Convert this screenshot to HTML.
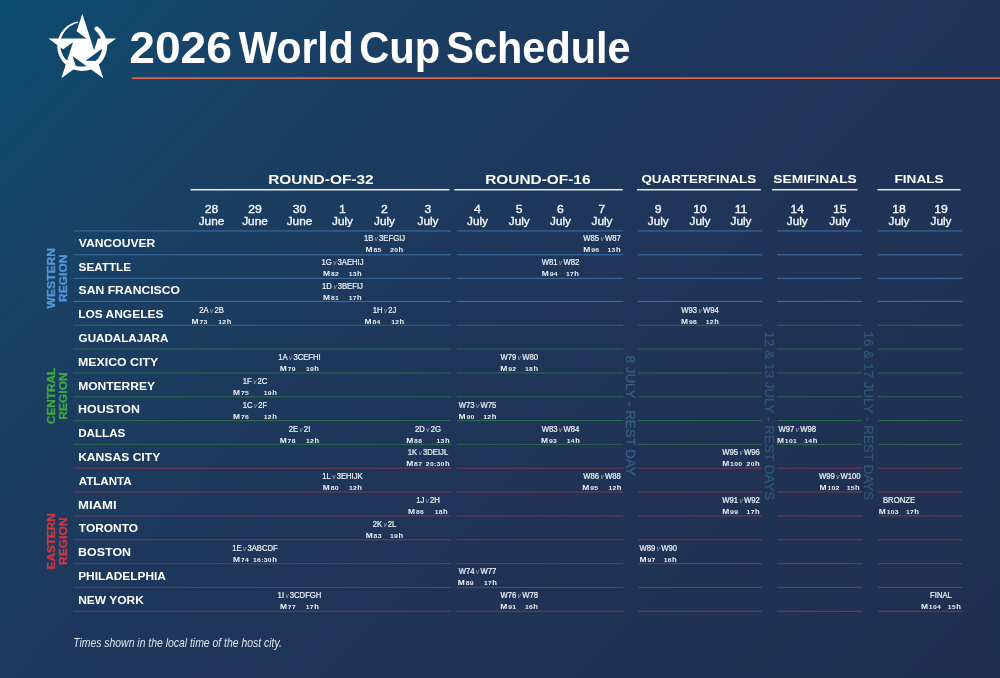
<!DOCTYPE html>
<html lang="en"><head><meta charset="utf-8"><title>2026 World Cup Schedule</title>
<style>
html,body{margin:0;padding:0;background:#1f3155;}
body{width:1000px;height:678px;overflow:hidden;font-family:"Liberation Sans",sans-serif;}
.page{position:relative;width:1000px;height:678px;overflow:hidden;color:#fff;
background:linear-gradient(134deg,#0b4b70 0%,#164468 15%,#1b3c60 30%,#1d385d 40%,#203457 60%,#202f50 100%);}

svg.main{position:absolute;left:0;top:0;font-family:"Liberation Sans",sans-serif;fill:#fff;}
svg.main text{white-space:pre;}
.b{font-weight:bold;}
.md{fill:#f6f8fb;stroke:#f6f8fb;stroke-width:0.35px;}
.m1{fill:#eef1f6;stroke:#eef1f6;stroke-width:0.22px;}
.v{font-size:6.8px;font-style:italic;fill:#a6b4c9;stroke:none;letter-spacing:-0.35px;}
.m2{font-weight:bold;fill:#eef1f6;}
.sd{letter-spacing:0.25px;}
.rg{stroke-width:0.3px;letter-spacing:0.25px;}
.logo{position:absolute;left:40px;top:5px;}
</style></head><body>
<div class="page">
<svg class="logo" width="90" height="85" viewBox="0 0 90 85">
<path d="M58.21 21.93 L59.81 23.39 L61.27 24.99 L62.60 26.72 L63.76 28.55 L64.77 30.48 L65.60 32.48 L66.25 34.56 L66.72 36.68 L67.01 38.83 L67.10 41.00 L67.01 43.17 L66.72 45.32 L66.25 47.44 L65.60 49.52 L64.77 51.52 L63.76 53.45 L62.60 55.28 L61.27 57.01 L59.81 58.61 L58.21 60.07 L56.48 61.40 L54.65 62.56 L52.72 63.57 L50.72 64.40 L48.64 65.05 L46.52 65.52 L44.37 65.81 L42.20 65.90 L40.03 65.81 L37.88 65.52 L35.76 65.05 L33.68 64.40 L31.68 63.57 L29.75 62.56 L27.92 61.40 L26.19 60.07 L24.59 58.61 L23.13 57.01 L21.80 55.28 L20.64 53.45 L19.63 51.52 L18.80 49.52 L18.15 47.44 L17.68 45.32 L17.39 43.17 L17.30 41.00 L17.39 38.83 L17.68 36.68 L18.15 34.56 L18.80 32.48 L19.63 30.48 L20.64 28.55 L21.80 26.72 L23.13 24.99 L24.59 23.39 L26.19 21.93 L27.92 20.60 L29.75 19.44 L31.68 18.43 L33.68 17.60 L35.76 16.95 L37.88 16.48 L38.10 17.76 L36.12 18.31 L34.20 19.03 L32.36 19.91 L30.62 20.94 L28.97 22.11 L27.45 23.42 L26.05 24.85 L24.79 26.39 L23.67 28.02 L22.70 29.74 L21.89 31.53 L21.24 33.37 L20.78 35.26 L20.48 37.17 L20.36 39.09 L20.40 41.00 L20.56 42.89 L20.88 44.76 L21.37 46.58 L22.01 48.35 L22.79 50.05 L23.72 51.67 L24.79 53.19 L25.98 54.61 L27.28 55.92 L28.67 57.12 L30.16 58.19 L31.73 59.13 L33.38 59.92 L35.08 60.57 L36.83 61.06 L38.60 61.40 L40.40 61.58 L42.20 61.60 L43.99 61.48 L45.76 61.20 L47.50 60.77 L49.18 60.19 L50.81 59.47 L52.37 58.61 L53.84 57.62 L55.21 56.51 L56.48 55.28 L57.67 53.98 L58.73 52.57 L59.66 51.08 L60.47 49.52 L61.13 47.89 L61.65 46.21 L62.02 44.49 L62.23 42.75 L62.30 41.00 L62.24 39.25 L62.03 37.50 L61.67 35.78 L61.16 34.10 L60.51 32.46 L59.71 30.89 L58.78 29.39 L57.72 27.98 L56.54 26.66 L55.25 25.45 L54.69 24.75 L54.44 23.89 L54.53 23.00 L54.97 22.21 L55.66 21.65 L56.53 21.40 L57.42 21.49Z" fill="#fff"/>
<path d="M42.30 8.75 L54.04 44.89 L57.95 33.42 L76.25 33.42 L45.51 55.75 L57.63 55.93 L63.28 73.33 L32.54 51.00 L36.12 62.58 L21.32 73.33 L33.06 37.19 L23.15 44.17 L8.35 33.42 L46.35 33.42 L36.64 26.15Z" fill="#fff"/>
</svg>
<svg class="main" width="1000" height="678" viewBox="0 0 1000 678">
<rect x="190.5" y="188.95" width="259.00" height="1.55" fill="#e1e6ef"/>
<rect x="454.2" y="188.95" width="168.55" height="1.55" fill="#e1e6ef"/>
<rect x="637" y="188.95" width="123.75" height="1.55" fill="#e1e6ef"/>
<rect x="772" y="188.95" width="85.50" height="1.55" fill="#e1e6ef"/>
<rect x="877.5" y="188.95" width="83.00" height="1.55" fill="#e1e6ef"/>
<rect x="73.3" y="230.35" width="377.70" height="1.15" fill="#3d6b9c"/>
<rect x="456.8" y="230.35" width="166.40" height="1.15" fill="#3d6b9c"/>
<rect x="638" y="230.35" width="124.00" height="1.15" fill="#3d6b9c"/>
<rect x="777" y="230.35" width="85.30" height="1.15" fill="#3d6b9c"/>
<rect x="878" y="230.35" width="84.50" height="1.15" fill="#3d6b9c"/>
<rect x="73.3" y="254.20" width="377.70" height="1.15" fill="#3d6b9c"/>
<rect x="456.8" y="254.20" width="166.40" height="1.15" fill="#3d6b9c"/>
<rect x="638" y="254.20" width="124.00" height="1.15" fill="#3d6b9c"/>
<rect x="777" y="254.20" width="85.30" height="1.15" fill="#3d6b9c"/>
<rect x="878" y="254.20" width="84.50" height="1.15" fill="#3d6b9c"/>
<rect x="73.3" y="277.80" width="377.70" height="1.15" fill="#3d6b9c"/>
<rect x="456.8" y="277.80" width="166.40" height="1.15" fill="#3d6b9c"/>
<rect x="638" y="277.80" width="124.00" height="1.15" fill="#3d6b9c"/>
<rect x="777" y="277.80" width="85.30" height="1.15" fill="#3d6b9c"/>
<rect x="878" y="277.80" width="84.50" height="1.15" fill="#3d6b9c"/>
<rect x="73.3" y="300.90" width="377.70" height="1.15" fill="#3d6b9c"/>
<rect x="456.8" y="300.90" width="166.40" height="1.15" fill="#3d6b9c"/>
<rect x="638" y="300.90" width="124.00" height="1.15" fill="#3d6b9c"/>
<rect x="777" y="300.90" width="85.30" height="1.15" fill="#3d6b9c"/>
<rect x="878" y="300.90" width="84.50" height="1.15" fill="#3d6b9c"/>
<rect x="73.3" y="324.70" width="377.70" height="1.15" fill="#29664f"/>
<rect x="456.8" y="324.70" width="166.40" height="1.15" fill="#29664f"/>
<rect x="638" y="324.70" width="124.00" height="1.15" fill="#29664f"/>
<rect x="777" y="324.70" width="85.30" height="1.15" fill="#29664f"/>
<rect x="878" y="324.70" width="84.50" height="1.15" fill="#29664f"/>
<rect x="73.3" y="348.50" width="377.70" height="1.15" fill="#29664f"/>
<rect x="456.8" y="348.50" width="166.40" height="1.15" fill="#29664f"/>
<rect x="638" y="348.50" width="124.00" height="1.15" fill="#29664f"/>
<rect x="777" y="348.50" width="85.30" height="1.15" fill="#29664f"/>
<rect x="878" y="348.50" width="84.50" height="1.15" fill="#29664f"/>
<rect x="73.3" y="372.40" width="377.70" height="1.15" fill="#29664f"/>
<rect x="456.8" y="372.40" width="166.40" height="1.15" fill="#29664f"/>
<rect x="638" y="372.40" width="124.00" height="1.15" fill="#29664f"/>
<rect x="777" y="372.40" width="85.30" height="1.15" fill="#29664f"/>
<rect x="878" y="372.40" width="84.50" height="1.15" fill="#29664f"/>
<rect x="73.3" y="396.20" width="377.70" height="1.15" fill="#29664f"/>
<rect x="456.8" y="396.20" width="166.40" height="1.15" fill="#29664f"/>
<rect x="638" y="396.20" width="124.00" height="1.15" fill="#29664f"/>
<rect x="777" y="396.20" width="85.30" height="1.15" fill="#29664f"/>
<rect x="878" y="396.20" width="84.50" height="1.15" fill="#29664f"/>
<rect x="73.3" y="420.00" width="377.70" height="1.15" fill="#29664f"/>
<rect x="456.8" y="420.00" width="166.40" height="1.15" fill="#29664f"/>
<rect x="638" y="420.00" width="124.00" height="1.15" fill="#29664f"/>
<rect x="777" y="420.00" width="85.30" height="1.15" fill="#29664f"/>
<rect x="878" y="420.00" width="84.50" height="1.15" fill="#29664f"/>
<rect x="73.3" y="443.80" width="377.70" height="1.15" fill="#29664f"/>
<rect x="456.8" y="443.80" width="166.40" height="1.15" fill="#29664f"/>
<rect x="638" y="443.80" width="124.00" height="1.15" fill="#29664f"/>
<rect x="777" y="443.80" width="85.30" height="1.15" fill="#29664f"/>
<rect x="878" y="443.80" width="84.50" height="1.15" fill="#29664f"/>
<rect x="73.3" y="467.60" width="377.70" height="1.15" fill="#743952"/>
<rect x="456.8" y="467.60" width="166.40" height="1.15" fill="#743952"/>
<rect x="638" y="467.60" width="124.00" height="1.15" fill="#743952"/>
<rect x="777" y="467.60" width="85.30" height="1.15" fill="#743952"/>
<rect x="878" y="467.60" width="84.50" height="1.15" fill="#743952"/>
<rect x="73.3" y="491.40" width="377.70" height="1.15" fill="#743952"/>
<rect x="456.8" y="491.40" width="166.40" height="1.15" fill="#743952"/>
<rect x="638" y="491.40" width="124.00" height="1.15" fill="#743952"/>
<rect x="777" y="491.40" width="85.30" height="1.15" fill="#743952"/>
<rect x="878" y="491.40" width="84.50" height="1.15" fill="#743952"/>
<rect x="73.3" y="515.30" width="377.70" height="1.15" fill="#743952"/>
<rect x="456.8" y="515.30" width="166.40" height="1.15" fill="#743952"/>
<rect x="638" y="515.30" width="124.00" height="1.15" fill="#743952"/>
<rect x="777" y="515.30" width="85.30" height="1.15" fill="#743952"/>
<rect x="878" y="515.30" width="84.50" height="1.15" fill="#743952"/>
<rect x="73.3" y="539.20" width="377.70" height="1.15" fill="#743952"/>
<rect x="456.8" y="539.20" width="166.40" height="1.15" fill="#743952"/>
<rect x="638" y="539.20" width="124.00" height="1.15" fill="#743952"/>
<rect x="777" y="539.20" width="85.30" height="1.15" fill="#743952"/>
<rect x="878" y="539.20" width="84.50" height="1.15" fill="#743952"/>
<rect x="73.3" y="563.00" width="377.70" height="1.15" fill="#743952"/>
<rect x="456.8" y="563.00" width="166.40" height="1.15" fill="#743952"/>
<rect x="638" y="563.00" width="124.00" height="1.15" fill="#743952"/>
<rect x="777" y="563.00" width="85.30" height="1.15" fill="#743952"/>
<rect x="878" y="563.00" width="84.50" height="1.15" fill="#743952"/>
<rect x="73.3" y="586.90" width="377.70" height="1.15" fill="#743952"/>
<rect x="456.8" y="586.90" width="166.40" height="1.15" fill="#743952"/>
<rect x="638" y="586.90" width="124.00" height="1.15" fill="#743952"/>
<rect x="777" y="586.90" width="85.30" height="1.15" fill="#743952"/>
<rect x="878" y="586.90" width="84.50" height="1.15" fill="#743952"/>
<rect x="73.3" y="610.80" width="377.70" height="1.15" fill="#743952"/>
<rect x="456.8" y="610.80" width="166.40" height="1.15" fill="#743952"/>
<rect x="638" y="610.80" width="124.00" height="1.15" fill="#743952"/>
<rect x="777" y="610.80" width="85.30" height="1.15" fill="#743952"/>
<rect x="878" y="610.80" width="84.50" height="1.15" fill="#743952"/>
<rect x="131.8" y="77.35" width="868.2" height="1.6" fill="#e96a50"/>
<text y="62.8" font-size="44.4" class="b"><tspan x="129.24" textLength="102.78" lengthAdjust="spacingAndGlyphs">2026</tspan> <tspan x="238.79" textLength="114.84" lengthAdjust="spacingAndGlyphs">World</tspan> <tspan x="359.14" textLength="81.16" lengthAdjust="spacingAndGlyphs">Cup</tspan> <tspan x="446.33" textLength="184.28" lengthAdjust="spacingAndGlyphs">Schedule</tspan></text>
<text transform="translate(268.16 184.00) scale(1.1880 1)" font-size="13" class="b">ROUND-OF-32</text>
<text transform="translate(485.21 184.00) scale(1.1857 1)" font-size="13" class="b">ROUND-OF-16</text>
<text transform="translate(641.43 183.00) scale(1.1375 1)" font-size="11.8" class="b">QUARTERFINALS</text>
<text transform="translate(773.31 183.00) scale(1.1681 1)" font-size="11.8" class="b">SEMIFINALS</text>
<text transform="translate(894.54 183.00) scale(1.1529 1)" font-size="11.8" class="b">FINALS</text>
<text transform="translate(211.50 213.00) scale(1.0700 1)" font-size="11.4" text-anchor="middle" class="md">28</text>
<text x="211.50" y="225.00" font-size="11.8" text-anchor="middle" class="md">June</text>
<text transform="translate(255.00 213.00) scale(1.0700 1)" font-size="11.4" text-anchor="middle" class="md">29</text>
<text x="255.00" y="225.00" font-size="11.8" text-anchor="middle" class="md">June</text>
<text transform="translate(299.50 213.00) scale(1.0700 1)" font-size="11.4" text-anchor="middle" class="md">30</text>
<text x="299.50" y="225.00" font-size="11.8" text-anchor="middle" class="md">June</text>
<text transform="translate(342.50 213.00) scale(1.0700 1)" font-size="11.4" text-anchor="middle" class="md">1</text>
<text x="342.50" y="225.00" font-size="11.8" text-anchor="middle" class="md">July</text>
<text transform="translate(384.50 213.00) scale(1.0700 1)" font-size="11.4" text-anchor="middle" class="md">2</text>
<text x="384.50" y="225.00" font-size="11.8" text-anchor="middle" class="md">July</text>
<text transform="translate(428.00 213.00) scale(1.0700 1)" font-size="11.4" text-anchor="middle" class="md">3</text>
<text x="428.00" y="225.00" font-size="11.8" text-anchor="middle" class="md">July</text>
<text transform="translate(477.50 213.00) scale(1.0700 1)" font-size="11.4" text-anchor="middle" class="md">4</text>
<text x="477.50" y="225.00" font-size="11.8" text-anchor="middle" class="md">July</text>
<text transform="translate(519.25 213.00) scale(1.0700 1)" font-size="11.4" text-anchor="middle" class="md">5</text>
<text x="519.25" y="225.00" font-size="11.8" text-anchor="middle" class="md">July</text>
<text transform="translate(560.50 213.00) scale(1.0700 1)" font-size="11.4" text-anchor="middle" class="md">6</text>
<text x="560.50" y="225.00" font-size="11.8" text-anchor="middle" class="md">July</text>
<text transform="translate(602.00 213.00) scale(1.0700 1)" font-size="11.4" text-anchor="middle" class="md">7</text>
<text x="602.00" y="225.00" font-size="11.8" text-anchor="middle" class="md">July</text>
<text transform="translate(658.25 213.00) scale(1.0700 1)" font-size="11.4" text-anchor="middle" class="md">9</text>
<text x="658.25" y="225.00" font-size="11.8" text-anchor="middle" class="md">July</text>
<text transform="translate(700.00 213.00) scale(1.0700 1)" font-size="11.4" text-anchor="middle" class="md">10</text>
<text x="700.00" y="225.00" font-size="11.8" text-anchor="middle" class="md">July</text>
<text transform="translate(741.00 213.00) scale(1.0700 1)" font-size="11.4" text-anchor="middle" class="md">11</text>
<text x="741.00" y="225.00" font-size="11.8" text-anchor="middle" class="md">July</text>
<text transform="translate(797.25 213.00) scale(1.0700 1)" font-size="11.4" text-anchor="middle" class="md">14</text>
<text x="797.25" y="225.00" font-size="11.8" text-anchor="middle" class="md">July</text>
<text transform="translate(839.75 213.00) scale(1.0700 1)" font-size="11.4" text-anchor="middle" class="md">15</text>
<text x="839.75" y="225.00" font-size="11.8" text-anchor="middle" class="md">July</text>
<text transform="translate(899.00 213.00) scale(1.0700 1)" font-size="11.4" text-anchor="middle" class="md">18</text>
<text x="899.00" y="225.00" font-size="11.8" text-anchor="middle" class="md">July</text>
<text transform="translate(941.00 213.00) scale(1.0700 1)" font-size="11.4" text-anchor="middle" class="md">19</text>
<text x="941.00" y="225.00" font-size="11.8" text-anchor="middle" class="md">July</text>
<text transform="translate(78.86 246.70) scale(1.1537 1)" font-size="10.5" class="b">VANCOUVER</text>
<text transform="translate(78.58 270.50) scale(1.1157 1)" font-size="10.5" class="b">SEATTLE</text>
<text transform="translate(78.57 294.30) scale(1.1597 1)" font-size="10.5" class="b">SAN FRANCISCO</text>
<text transform="translate(78.15 318.10) scale(1.1390 1)" font-size="10.5" class="b">LOS ANGELES</text>
<text transform="translate(78.58 341.90) scale(1.1086 1)" font-size="10.5" class="b">GUADALAJARA</text>
<text transform="translate(78.12 365.70) scale(1.1732 1)" font-size="10.5" class="b">MEXICO CITY</text>
<text transform="translate(78.14 389.50) scale(1.1463 1)" font-size="10.5" class="b">MONTERREY</text>
<text transform="translate(78.11 413.30) scale(1.1813 1)" font-size="10.5" class="b">HOUSTON</text>
<text transform="translate(78.17 437.10) scale(1.1094 1)" font-size="10.5" class="b">DALLAS</text>
<text transform="translate(78.13 460.90) scale(1.1544 1)" font-size="10.5" class="b">KANSAS CITY</text>
<text transform="translate(78.72 484.70) scale(1.1011 1)" font-size="10.5" class="b">ATLANTA</text>
<text transform="translate(78.06 508.50) scale(1.2475 1)" font-size="10.5" class="b">MIAMI</text>
<text transform="translate(78.86 532.30) scale(1.1359 1)" font-size="10.5" class="b">TORONTO</text>
<text transform="translate(78.11 556.10) scale(1.1838 1)" font-size="10.5" class="b">BOSTON</text>
<text transform="translate(78.15 579.90) scale(1.1320 1)" font-size="10.5" class="b">PHILADELPHIA</text>
<text transform="translate(78.14 603.70) scale(1.1426 1)" font-size="10.5" class="b">NEW YORK</text>
<text transform="translate(384.50 241.20) scale(0.9400 1)" font-size="8.2" text-anchor="middle" class="m1">1B<tspan class="v"> v </tspan>3EFGIJ</text>
<text transform="translate(365.60 252.10) scale(1.28 1)" class="m2" font-size="6.6">M</text>
<text transform="translate(373.50 252.10) scale(1.12 1)" class="m2 sd" font-size="6.1">85</text>
<text transform="translate(398.30 252.10) scale(1.12 1)" class="m2 sd" font-size="6.1" text-anchor="end">20</text>
<text transform="translate(403.20 252.10) scale(1.15 1)" class="m2" font-size="6.6" text-anchor="end">h</text>
<text transform="translate(602.00 241.20) scale(0.9400 1)" font-size="8.2" text-anchor="middle" class="m1">W85<tspan class="v"> v </tspan>W87</text>
<text transform="translate(583.25 252.10) scale(1.28 1)" class="m2" font-size="6.6">M</text>
<text transform="translate(591.15 252.10) scale(1.12 1)" class="m2 sd" font-size="6.1">96</text>
<text transform="translate(615.65 252.10) scale(1.12 1)" class="m2 sd" font-size="6.1" text-anchor="end">13</text>
<text transform="translate(620.55 252.10) scale(1.15 1)" class="m2" font-size="6.6" text-anchor="end">h</text>
<text transform="translate(342.50 265.00) scale(0.9400 1)" font-size="8.2" text-anchor="middle" class="m1">1G<tspan class="v"> v </tspan>3AEHIJ</text>
<text transform="translate(323.05 275.90) scale(1.28 1)" class="m2" font-size="6.6">M</text>
<text transform="translate(330.95 275.90) scale(1.12 1)" class="m2 sd" font-size="6.1">82</text>
<text transform="translate(356.85 275.90) scale(1.12 1)" class="m2 sd" font-size="6.1" text-anchor="end">13</text>
<text transform="translate(361.75 275.90) scale(1.15 1)" class="m2" font-size="6.6" text-anchor="end">h</text>
<text transform="translate(560.50 265.00) scale(0.9400 1)" font-size="8.2" text-anchor="middle" class="m1">W81<tspan class="v"> v </tspan>W82</text>
<text transform="translate(541.80 275.90) scale(1.28 1)" class="m2" font-size="6.6">M</text>
<text transform="translate(549.70 275.90) scale(1.12 1)" class="m2 sd" font-size="6.1">94</text>
<text transform="translate(574.10 275.90) scale(1.12 1)" class="m2 sd" font-size="6.1" text-anchor="end">17</text>
<text transform="translate(579.00 275.90) scale(1.15 1)" class="m2" font-size="6.6" text-anchor="end">h</text>
<text transform="translate(342.50 288.80) scale(0.9400 1)" font-size="8.2" text-anchor="middle" class="m1">1D<tspan class="v"> v </tspan>3BEFIJ</text>
<text transform="translate(323.05 299.70) scale(1.28 1)" class="m2" font-size="6.6">M</text>
<text transform="translate(330.95 299.70) scale(1.12 1)" class="m2 sd" font-size="6.1">81</text>
<text transform="translate(356.85 299.70) scale(1.12 1)" class="m2 sd" font-size="6.1" text-anchor="end">17</text>
<text transform="translate(361.75 299.70) scale(1.15 1)" class="m2" font-size="6.6" text-anchor="end">h</text>
<text transform="translate(211.50 312.60) scale(0.9400 1)" font-size="8.2" text-anchor="middle" class="m1">2A<tspan class="v"> v </tspan>2B</text>
<text transform="translate(191.50 323.50) scale(1.28 1)" class="m2" font-size="6.6">M</text>
<text transform="translate(199.40 323.50) scale(1.12 1)" class="m2 sd" font-size="6.1">73</text>
<text transform="translate(226.40 323.50) scale(1.12 1)" class="m2 sd" font-size="6.1" text-anchor="end">12</text>
<text transform="translate(231.30 323.50) scale(1.15 1)" class="m2" font-size="6.6" text-anchor="end">h</text>
<text transform="translate(384.50 312.60) scale(0.9400 1)" font-size="8.2" text-anchor="middle" class="m1">1H<tspan class="v"> v </tspan>2J</text>
<text transform="translate(364.60 323.50) scale(1.28 1)" class="m2" font-size="6.6">M</text>
<text transform="translate(372.50 323.50) scale(1.12 1)" class="m2 sd" font-size="6.1">84</text>
<text transform="translate(399.30 323.50) scale(1.12 1)" class="m2 sd" font-size="6.1" text-anchor="end">12</text>
<text transform="translate(404.20 323.50) scale(1.15 1)" class="m2" font-size="6.6" text-anchor="end">h</text>
<text transform="translate(700.00 312.60) scale(0.9400 1)" font-size="8.2" text-anchor="middle" class="m1">W93<tspan class="v"> v </tspan>W94</text>
<text transform="translate(681.00 323.50) scale(1.28 1)" class="m2" font-size="6.6">M</text>
<text transform="translate(688.90 323.50) scale(1.12 1)" class="m2 sd" font-size="6.1">98</text>
<text transform="translate(713.90 323.50) scale(1.12 1)" class="m2 sd" font-size="6.1" text-anchor="end">12</text>
<text transform="translate(718.80 323.50) scale(1.15 1)" class="m2" font-size="6.6" text-anchor="end">h</text>
<text transform="translate(299.50 360.20) scale(0.9400 1)" font-size="8.2" text-anchor="middle" class="m1">1A<tspan class="v"> v </tspan>3CEFHI</text>
<text transform="translate(279.80 371.10) scale(1.28 1)" class="m2" font-size="6.6">M</text>
<text transform="translate(287.70 371.10) scale(1.12 1)" class="m2 sd" font-size="6.1">79</text>
<text transform="translate(314.10 371.10) scale(1.12 1)" class="m2 sd" font-size="6.1" text-anchor="end">19</text>
<text transform="translate(319.00 371.10) scale(1.15 1)" class="m2" font-size="6.6" text-anchor="end">h</text>
<text transform="translate(519.25 360.20) scale(0.9400 1)" font-size="8.2" text-anchor="middle" class="m1">W79<tspan class="v"> v </tspan>W80</text>
<text transform="translate(500.25 371.10) scale(1.28 1)" class="m2" font-size="6.6">M</text>
<text transform="translate(508.15 371.10) scale(1.12 1)" class="m2 sd" font-size="6.1">92</text>
<text transform="translate(533.15 371.10) scale(1.12 1)" class="m2 sd" font-size="6.1" text-anchor="end">18</text>
<text transform="translate(538.05 371.10) scale(1.15 1)" class="m2" font-size="6.6" text-anchor="end">h</text>
<text transform="translate(255.00 384.00) scale(0.9400 1)" font-size="8.2" text-anchor="middle" class="m1">1F<tspan class="v"> v </tspan>2C</text>
<text transform="translate(233.00 394.90) scale(1.28 1)" class="m2" font-size="6.6">M</text>
<text transform="translate(240.90 394.90) scale(1.12 1)" class="m2 sd" font-size="6.1">75</text>
<text transform="translate(271.90 394.90) scale(1.12 1)" class="m2 sd" font-size="6.1" text-anchor="end">19</text>
<text transform="translate(276.80 394.90) scale(1.15 1)" class="m2" font-size="6.6" text-anchor="end">h</text>
<text transform="translate(255.00 407.80) scale(0.9400 1)" font-size="8.2" text-anchor="middle" class="m1">1C<tspan class="v"> v </tspan>2F</text>
<text transform="translate(233.00 418.70) scale(1.28 1)" class="m2" font-size="6.6">M</text>
<text transform="translate(240.90 418.70) scale(1.12 1)" class="m2 sd" font-size="6.1">76</text>
<text transform="translate(271.90 418.70) scale(1.12 1)" class="m2 sd" font-size="6.1" text-anchor="end">12</text>
<text transform="translate(276.80 418.70) scale(1.15 1)" class="m2" font-size="6.6" text-anchor="end">h</text>
<text transform="translate(477.50 407.80) scale(0.9400 1)" font-size="8.2" text-anchor="middle" class="m1">W73<tspan class="v"> v </tspan>W75</text>
<text transform="translate(458.50 418.70) scale(1.28 1)" class="m2" font-size="6.6">M</text>
<text transform="translate(466.40 418.70) scale(1.12 1)" class="m2 sd" font-size="6.1">90</text>
<text transform="translate(491.40 418.70) scale(1.12 1)" class="m2 sd" font-size="6.1" text-anchor="end">12</text>
<text transform="translate(496.30 418.70) scale(1.15 1)" class="m2" font-size="6.6" text-anchor="end">h</text>
<text transform="translate(299.50 431.60) scale(0.9400 1)" font-size="8.2" text-anchor="middle" class="m1">2E<tspan class="v"> v </tspan>2I</text>
<text transform="translate(279.70 442.50) scale(1.28 1)" class="m2" font-size="6.6">M</text>
<text transform="translate(287.60 442.50) scale(1.12 1)" class="m2 sd" font-size="6.1">78</text>
<text transform="translate(314.20 442.50) scale(1.12 1)" class="m2 sd" font-size="6.1" text-anchor="end">12</text>
<text transform="translate(319.10 442.50) scale(1.15 1)" class="m2" font-size="6.6" text-anchor="end">h</text>
<text transform="translate(428.00 431.60) scale(0.9400 1)" font-size="8.2" text-anchor="middle" class="m1">2D<tspan class="v"> v </tspan>2G</text>
<text transform="translate(406.20 442.50) scale(1.28 1)" class="m2" font-size="6.6">M</text>
<text transform="translate(414.10 442.50) scale(1.12 1)" class="m2 sd" font-size="6.1">88</text>
<text transform="translate(444.70 442.50) scale(1.12 1)" class="m2 sd" font-size="6.1" text-anchor="end">13</text>
<text transform="translate(449.60 442.50) scale(1.15 1)" class="m2" font-size="6.6" text-anchor="end">h</text>
<text transform="translate(560.50 431.60) scale(0.9400 1)" font-size="8.2" text-anchor="middle" class="m1">W83<tspan class="v"> v </tspan>W84</text>
<text transform="translate(541.00 442.50) scale(1.28 1)" class="m2" font-size="6.6">M</text>
<text transform="translate(548.90 442.50) scale(1.12 1)" class="m2 sd" font-size="6.1">93</text>
<text transform="translate(574.90 442.50) scale(1.12 1)" class="m2 sd" font-size="6.1" text-anchor="end">14</text>
<text transform="translate(579.80 442.50) scale(1.15 1)" class="m2" font-size="6.6" text-anchor="end">h</text>
<text transform="translate(797.25 431.60) scale(0.9400 1)" font-size="8.2" text-anchor="middle" class="m1">W97<tspan class="v"> v </tspan>W98</text>
<text transform="translate(776.95 442.50) scale(1.28 1)" class="m2" font-size="6.6">M</text>
<text transform="translate(784.85 442.50) scale(1.12 1)" class="m2 sd" font-size="6.1">101</text>
<text transform="translate(812.45 442.50) scale(1.12 1)" class="m2 sd" font-size="6.1" text-anchor="end">14</text>
<text transform="translate(817.35 442.50) scale(1.15 1)" class="m2" font-size="6.6" text-anchor="end">h</text>
<text transform="translate(428.00 455.40) scale(0.9400 1)" font-size="8.2" text-anchor="middle" class="m1">1K<tspan class="v"> v </tspan>3DEIJL</text>
<text transform="translate(406.20 466.30) scale(1.28 1)" class="m2" font-size="6.6">M</text>
<text transform="translate(414.10 466.30) scale(1.12 1)" class="m2 sd" font-size="6.1">87</text>
<text transform="translate(444.70 466.30) scale(1.12 1)" class="m2 sd" font-size="6.1" text-anchor="end">20:30</text>
<text transform="translate(449.60 466.30) scale(1.15 1)" class="m2" font-size="6.6" text-anchor="end">h</text>
<text transform="translate(741.00 455.40) scale(0.9400 1)" font-size="8.2" text-anchor="middle" class="m1">W95<tspan class="v"> v </tspan>W96</text>
<text transform="translate(722.15 466.30) scale(1.28 1)" class="m2" font-size="6.6">M</text>
<text transform="translate(730.05 466.30) scale(1.12 1)" class="m2 sd" font-size="6.1">100</text>
<text transform="translate(754.75 466.30) scale(1.12 1)" class="m2 sd" font-size="6.1" text-anchor="end">20</text>
<text transform="translate(759.65 466.30) scale(1.15 1)" class="m2" font-size="6.6" text-anchor="end">h</text>
<text transform="translate(342.50 479.20) scale(0.9400 1)" font-size="8.2" text-anchor="middle" class="m1">1L<tspan class="v"> v </tspan>3EHIJK</text>
<text transform="translate(322.80 490.10) scale(1.28 1)" class="m2" font-size="6.6">M</text>
<text transform="translate(330.70 490.10) scale(1.12 1)" class="m2 sd" font-size="6.1">80</text>
<text transform="translate(357.10 490.10) scale(1.12 1)" class="m2 sd" font-size="6.1" text-anchor="end">12</text>
<text transform="translate(362.00 490.10) scale(1.15 1)" class="m2" font-size="6.6" text-anchor="end">h</text>
<text transform="translate(602.00 479.20) scale(0.9400 1)" font-size="8.2" text-anchor="middle" class="m1">W86<tspan class="v"> v </tspan>W88</text>
<text transform="translate(582.35 490.10) scale(1.28 1)" class="m2" font-size="6.6">M</text>
<text transform="translate(590.25 490.10) scale(1.12 1)" class="m2 sd" font-size="6.1">95</text>
<text transform="translate(616.55 490.10) scale(1.12 1)" class="m2 sd" font-size="6.1" text-anchor="end">12</text>
<text transform="translate(621.45 490.10) scale(1.15 1)" class="m2" font-size="6.6" text-anchor="end">h</text>
<text transform="translate(839.75 479.20) scale(0.9400 1)" font-size="8.2" text-anchor="middle" class="m1">W99<tspan class="v"> v </tspan>W100</text>
<text transform="translate(819.55 490.10) scale(1.28 1)" class="m2" font-size="6.6">M</text>
<text transform="translate(827.45 490.10) scale(1.12 1)" class="m2 sd" font-size="6.1">102</text>
<text transform="translate(854.85 490.10) scale(1.12 1)" class="m2 sd" font-size="6.1" text-anchor="end">15</text>
<text transform="translate(859.75 490.10) scale(1.15 1)" class="m2" font-size="6.6" text-anchor="end">h</text>
<text transform="translate(428.00 503.00) scale(0.9400 1)" font-size="8.2" text-anchor="middle" class="m1">1J<tspan class="v"> v </tspan>2H</text>
<text transform="translate(408.10 513.90) scale(1.28 1)" class="m2" font-size="6.6">M</text>
<text transform="translate(416.00 513.90) scale(1.12 1)" class="m2 sd" font-size="6.1">86</text>
<text transform="translate(442.80 513.90) scale(1.12 1)" class="m2 sd" font-size="6.1" text-anchor="end">18</text>
<text transform="translate(447.70 513.90) scale(1.15 1)" class="m2" font-size="6.6" text-anchor="end">h</text>
<text transform="translate(741.00 503.00) scale(0.9400 1)" font-size="8.2" text-anchor="middle" class="m1">W91<tspan class="v"> v </tspan>W92</text>
<text transform="translate(722.15 513.90) scale(1.28 1)" class="m2" font-size="6.6">M</text>
<text transform="translate(730.05 513.90) scale(1.12 1)" class="m2 sd" font-size="6.1">99</text>
<text transform="translate(754.75 513.90) scale(1.12 1)" class="m2 sd" font-size="6.1" text-anchor="end">17</text>
<text transform="translate(759.65 513.90) scale(1.15 1)" class="m2" font-size="6.6" text-anchor="end">h</text>
<text transform="translate(899.00 503.00) scale(0.9400 1)" font-size="8.2" text-anchor="middle" class="m1">BRONZE</text>
<text transform="translate(878.80 513.90) scale(1.28 1)" class="m2" font-size="6.6">M</text>
<text transform="translate(886.70 513.90) scale(1.12 1)" class="m2 sd" font-size="6.1">103</text>
<text transform="translate(914.10 513.90) scale(1.12 1)" class="m2 sd" font-size="6.1" text-anchor="end">17</text>
<text transform="translate(919.00 513.90) scale(1.15 1)" class="m2" font-size="6.6" text-anchor="end">h</text>
<text transform="translate(384.50 526.80) scale(0.9400 1)" font-size="8.2" text-anchor="middle" class="m1">2K<tspan class="v"> v </tspan>2L</text>
<text transform="translate(365.70 537.70) scale(1.28 1)" class="m2" font-size="6.6">M</text>
<text transform="translate(373.60 537.70) scale(1.12 1)" class="m2 sd" font-size="6.1">83</text>
<text transform="translate(398.20 537.70) scale(1.12 1)" class="m2 sd" font-size="6.1" text-anchor="end">19</text>
<text transform="translate(403.10 537.70) scale(1.15 1)" class="m2" font-size="6.6" text-anchor="end">h</text>
<text transform="translate(255.00 550.60) scale(0.9400 1)" font-size="8.2" text-anchor="middle" class="m1">1E<tspan class="v"> v </tspan>3ABCDF</text>
<text transform="translate(233.00 561.50) scale(1.28 1)" class="m2" font-size="6.6">M</text>
<text transform="translate(240.90 561.50) scale(1.12 1)" class="m2 sd" font-size="6.1">74</text>
<text transform="translate(271.90 561.50) scale(1.12 1)" class="m2 sd" font-size="6.1" text-anchor="end">16:30</text>
<text transform="translate(276.80 561.50) scale(1.15 1)" class="m2" font-size="6.6" text-anchor="end">h</text>
<text transform="translate(658.25 550.60) scale(0.9400 1)" font-size="8.2" text-anchor="middle" class="m1">W89<tspan class="v"> v </tspan>W90</text>
<text transform="translate(639.60 561.50) scale(1.28 1)" class="m2" font-size="6.6">M</text>
<text transform="translate(647.50 561.50) scale(1.12 1)" class="m2 sd" font-size="6.1">97</text>
<text transform="translate(671.80 561.50) scale(1.12 1)" class="m2 sd" font-size="6.1" text-anchor="end">16</text>
<text transform="translate(676.70 561.50) scale(1.15 1)" class="m2" font-size="6.6" text-anchor="end">h</text>
<text transform="translate(477.50 574.40) scale(0.9400 1)" font-size="8.2" text-anchor="middle" class="m1">W74<tspan class="v"> v </tspan>W77</text>
<text transform="translate(457.80 585.30) scale(1.28 1)" class="m2" font-size="6.6">M</text>
<text transform="translate(465.70 585.30) scale(1.12 1)" class="m2 sd" font-size="6.1">89</text>
<text transform="translate(492.10 585.30) scale(1.12 1)" class="m2 sd" font-size="6.1" text-anchor="end">17</text>
<text transform="translate(497.00 585.30) scale(1.15 1)" class="m2" font-size="6.6" text-anchor="end">h</text>
<text transform="translate(299.50 598.20) scale(0.9400 1)" font-size="8.2" text-anchor="middle" class="m1">1I<tspan class="v"> v </tspan>3CDFGH</text>
<text transform="translate(279.95 609.10) scale(1.28 1)" class="m2" font-size="6.6">M</text>
<text transform="translate(287.85 609.10) scale(1.12 1)" class="m2 sd" font-size="6.1">77</text>
<text transform="translate(313.95 609.10) scale(1.12 1)" class="m2 sd" font-size="6.1" text-anchor="end">17</text>
<text transform="translate(318.85 609.10) scale(1.15 1)" class="m2" font-size="6.6" text-anchor="end">h</text>
<text transform="translate(519.25 598.20) scale(0.9400 1)" font-size="8.2" text-anchor="middle" class="m1">W76<tspan class="v"> v </tspan>W78</text>
<text transform="translate(500.30 609.10) scale(1.28 1)" class="m2" font-size="6.6">M</text>
<text transform="translate(508.20 609.10) scale(1.12 1)" class="m2 sd" font-size="6.1">91</text>
<text transform="translate(533.10 609.10) scale(1.12 1)" class="m2 sd" font-size="6.1" text-anchor="end">16</text>
<text transform="translate(538.00 609.10) scale(1.15 1)" class="m2" font-size="6.6" text-anchor="end">h</text>
<text transform="translate(941.00 598.20) scale(0.9400 1)" font-size="8.2" text-anchor="middle" class="m1">FINAL</text>
<text transform="translate(920.90 609.10) scale(1.28 1)" class="m2" font-size="6.6">M</text>
<text transform="translate(928.80 609.10) scale(1.12 1)" class="m2 sd" font-size="6.1">104</text>
<text transform="translate(956.00 609.10) scale(1.12 1)" class="m2 sd" font-size="6.1" text-anchor="end">15</text>
<text transform="translate(960.90 609.10) scale(1.15 1)" class="m2" font-size="6.6" text-anchor="end">h</text>
<text transform="translate(54.9 278.30) rotate(-90)" text-anchor="middle" font-size="10.2" font-weight="bold" fill="#5496d6" stroke="#5496d6" stroke-width="0.3" textLength="60.3" lengthAdjust="spacingAndGlyphs">WESTERN</text>
<text transform="translate(66.8 278.30) rotate(-90)" text-anchor="middle" font-size="10.2" font-weight="bold" fill="#5496d6" stroke="#5496d6" stroke-width="0.3" textLength="47.5" lengthAdjust="spacingAndGlyphs">REGION</text>
<text transform="translate(54.9 396.00) rotate(-90)" text-anchor="middle" font-size="10.2" font-weight="bold" fill="#3fa643" stroke="#3fa643" stroke-width="0.3" textLength="56.1" lengthAdjust="spacingAndGlyphs">CENTRAL</text>
<text transform="translate(66.8 396.00) rotate(-90)" text-anchor="middle" font-size="10.2" font-weight="bold" fill="#3fa643" stroke="#3fa643" stroke-width="0.3" textLength="47.5" lengthAdjust="spacingAndGlyphs">REGION</text>
<text transform="translate(54.9 541.30) rotate(-90)" text-anchor="middle" font-size="10.2" font-weight="bold" fill="#cf3741" stroke="#cf3741" stroke-width="0.3" textLength="56.3" lengthAdjust="spacingAndGlyphs">EASTERN</text>
<text transform="translate(66.8 541.30) rotate(-90)" text-anchor="middle" font-size="10.2" font-weight="bold" fill="#cf3741" stroke="#cf3741" stroke-width="0.3" textLength="47.5" lengthAdjust="spacingAndGlyphs">REGION</text>
<text transform="translate(625.60 415.70) rotate(90)" text-anchor="middle" font-size="12.7" fill="#366283" stroke="#366283" stroke-width="0.25" textLength="120.2" lengthAdjust="spacingAndGlyphs">8 JULY - REST DAY</text>
<text transform="translate(764.50 415.90) rotate(90)" text-anchor="middle" font-size="12.2" fill="#30577d" stroke="#30577d" stroke-width="0.25" textLength="168.8" lengthAdjust="spacingAndGlyphs">12 &amp; 13 JULY - REST DAYS</text>
<text transform="translate(863.90 415.90) rotate(90)" text-anchor="middle" font-size="12.2" fill="#30577d" stroke="#30577d" stroke-width="0.25" textLength="168.8" lengthAdjust="spacingAndGlyphs">16 &amp; 17 JULY - REST DAYS</text>
<text x="73.2" y="646.5" font-size="12.2" font-style="italic" fill="#dfe4ec" textLength="208.6" lengthAdjust="spacingAndGlyphs">Times shown in the local time of the host city.</text>
</svg>
</div>
</body></html>
